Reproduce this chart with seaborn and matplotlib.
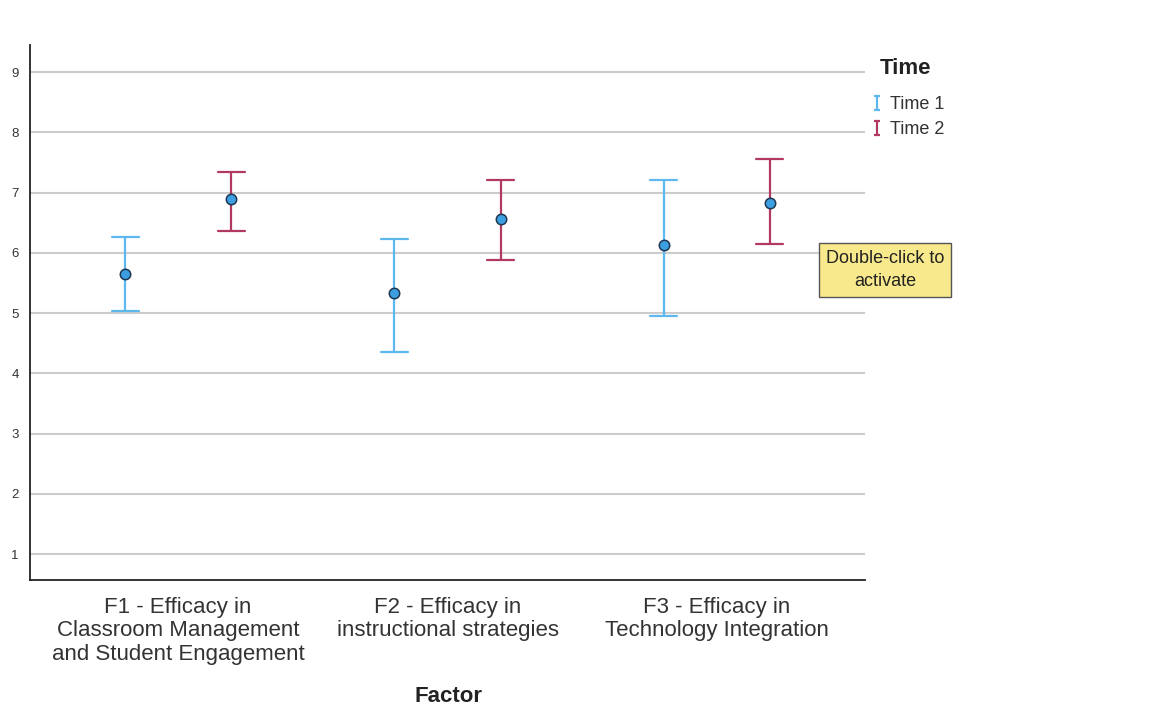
import numpy as np
import pandas as pd
import matplotlib
matplotlib.use("Agg")
import matplotlib.pyplot as plt
from matplotlib.path import Path
from matplotlib.lines import Line2D
import seaborn as sns

factors = ["F1 - Efficacy in\nClassroom Management\nand Student Engagement",
           "F2 - Efficacy in\ninstructional strategies",
           "F3 - Efficacy in\nTechnology Integration"]
times = ["Time 1", "Time 2"]
means_t1 = [5.65, 5.33, 6.13]
lower_t1 = [5.03, 4.35, 4.95]
upper_t1 = [6.26, 6.23, 7.21]
means_t2 = [6.89, 6.56, 6.83]
lower_t2 = [6.36, 5.88, 6.15]
upper_t2 = [7.34, 7.21, 7.56]
yticks = [1, 2, 3, 4, 5, 6, 7, 8, 9]

rows = []
for i, f in enumerate(factors):
    for t, lo, m, hi in ((times[0], lower_t1, means_t1, upper_t1),
                         (times[1], lower_t2, means_t2, upper_t2)):
        for v in (lo[i], m[i], hi[i]):
            rows.append({"Factor": f, "Time": t, "Value": v})
df = pd.DataFrame(rows)

sns.set_theme(style="white")
plt.rcParams["font.family"] = ["Liberation Sans", "DejaVu Sans"]

fig = plt.figure(figsize=(11.5, 7.05), dpi=100)
ax = fig.add_axes([30 / 1150, 1 - 580 / 705, 835 / 1150, 535 / 705])

err_colors = {"Time 1": "#5cb8ee", "Time 2": "#b23a60"}
dodge = 0.394
sns.pointplot(data=df, x="Factor", y="Value", hue="Time", hue_order=times,
              order=factors, palette=err_colors, estimator="median",
              errorbar=lambda v: (np.min(v), np.max(v)), dodge=dodge,
              capsize=0.1, err_kws={"linewidth": 1.6}, linestyle="none",
              marker="", ax=ax, legend=False)
sns.pointplot(data=df, x="Factor", y="Value", hue="Time", hue_order=times,
              order=factors, palette=["#3c9fe2", "#3c9fe2"], estimator="median",
              errorbar=None, dodge=dodge, linestyle="none", marker="o",
              markersize=7.5, markeredgecolor="#1e3650", markeredgewidth=1.1,
              ax=ax, legend=False, zorder=5)

ax.set_xlim(-0.55, 2.55)
ax.set_ylim(0.57, 9.45)
ax.set_yticks(yticks)
ax.yaxis.grid(True, color="#cccccc", linewidth=1.5)
ax.set_axisbelow(True)
for s in ["top", "right"]:
    ax.spines[s].set_visible(False)
for s in ["left", "bottom"]:
    ax.spines[s].set_color("#222222")
    ax.spines[s].set_linewidth(1.3)
ax.tick_params(axis="y", labelsize=9.5, labelcolor="#333333", length=0, pad=8)
ax.tick_params(axis="x", labelsize=16, labelcolor="#333333", length=0, pad=12)
for lab in ax.get_xticklabels():
    lab.set_linespacing(1.17)
ax.set_ylabel("")
ax.set_xlabel("")
fig.text(448 / 1150, 1 - 696 / 705, "Factor", ha="center", va="center",
         fontsize=16, fontweight="bold", color="#222222")

ibar = Path([(-0.5, -1), (0.5, -1), (0, -1), (0, 1), (-0.5, 1), (0.5, 1)],
            [Path.MOVETO, Path.LINETO, Path.MOVETO, Path.LINETO, Path.MOVETO, Path.LINETO])
handles = [Line2D([], [], linestyle="none", marker=ibar, markersize=10,
                  markeredgecolor=err_colors[t], markerfacecolor="none",
                  markeredgewidth=1.6) for t in times]
fig.text(880 / 1150, 1 - 68 / 705, "Time", ha="left", va="center",
         fontsize=16, fontweight="bold", color="#222222")
leg = fig.legend(handles, times, loc="upper left",
                 bbox_to_anchor=(864 / 1150, 1 - 89 / 705), frameon=False,
                 fontsize=13, handlelength=0.6, handletextpad=0.45,
                 labelspacing=0.45, borderaxespad=0)
for t in leg.get_texts():
    t.set_color("#333333")

fig.text(885 / 1150, 1 - 270 / 705, "Double-click to\nactivate", ha="center",
         va="center", fontsize=13, color="#222222", linespacing=1.45,
         bbox=dict(boxstyle="square,pad=0.4", facecolor="#f8e98c",
                   edgecolor="#555555", linewidth=1.0))

fig.savefig("out.png", dpi=100, facecolor="white")
